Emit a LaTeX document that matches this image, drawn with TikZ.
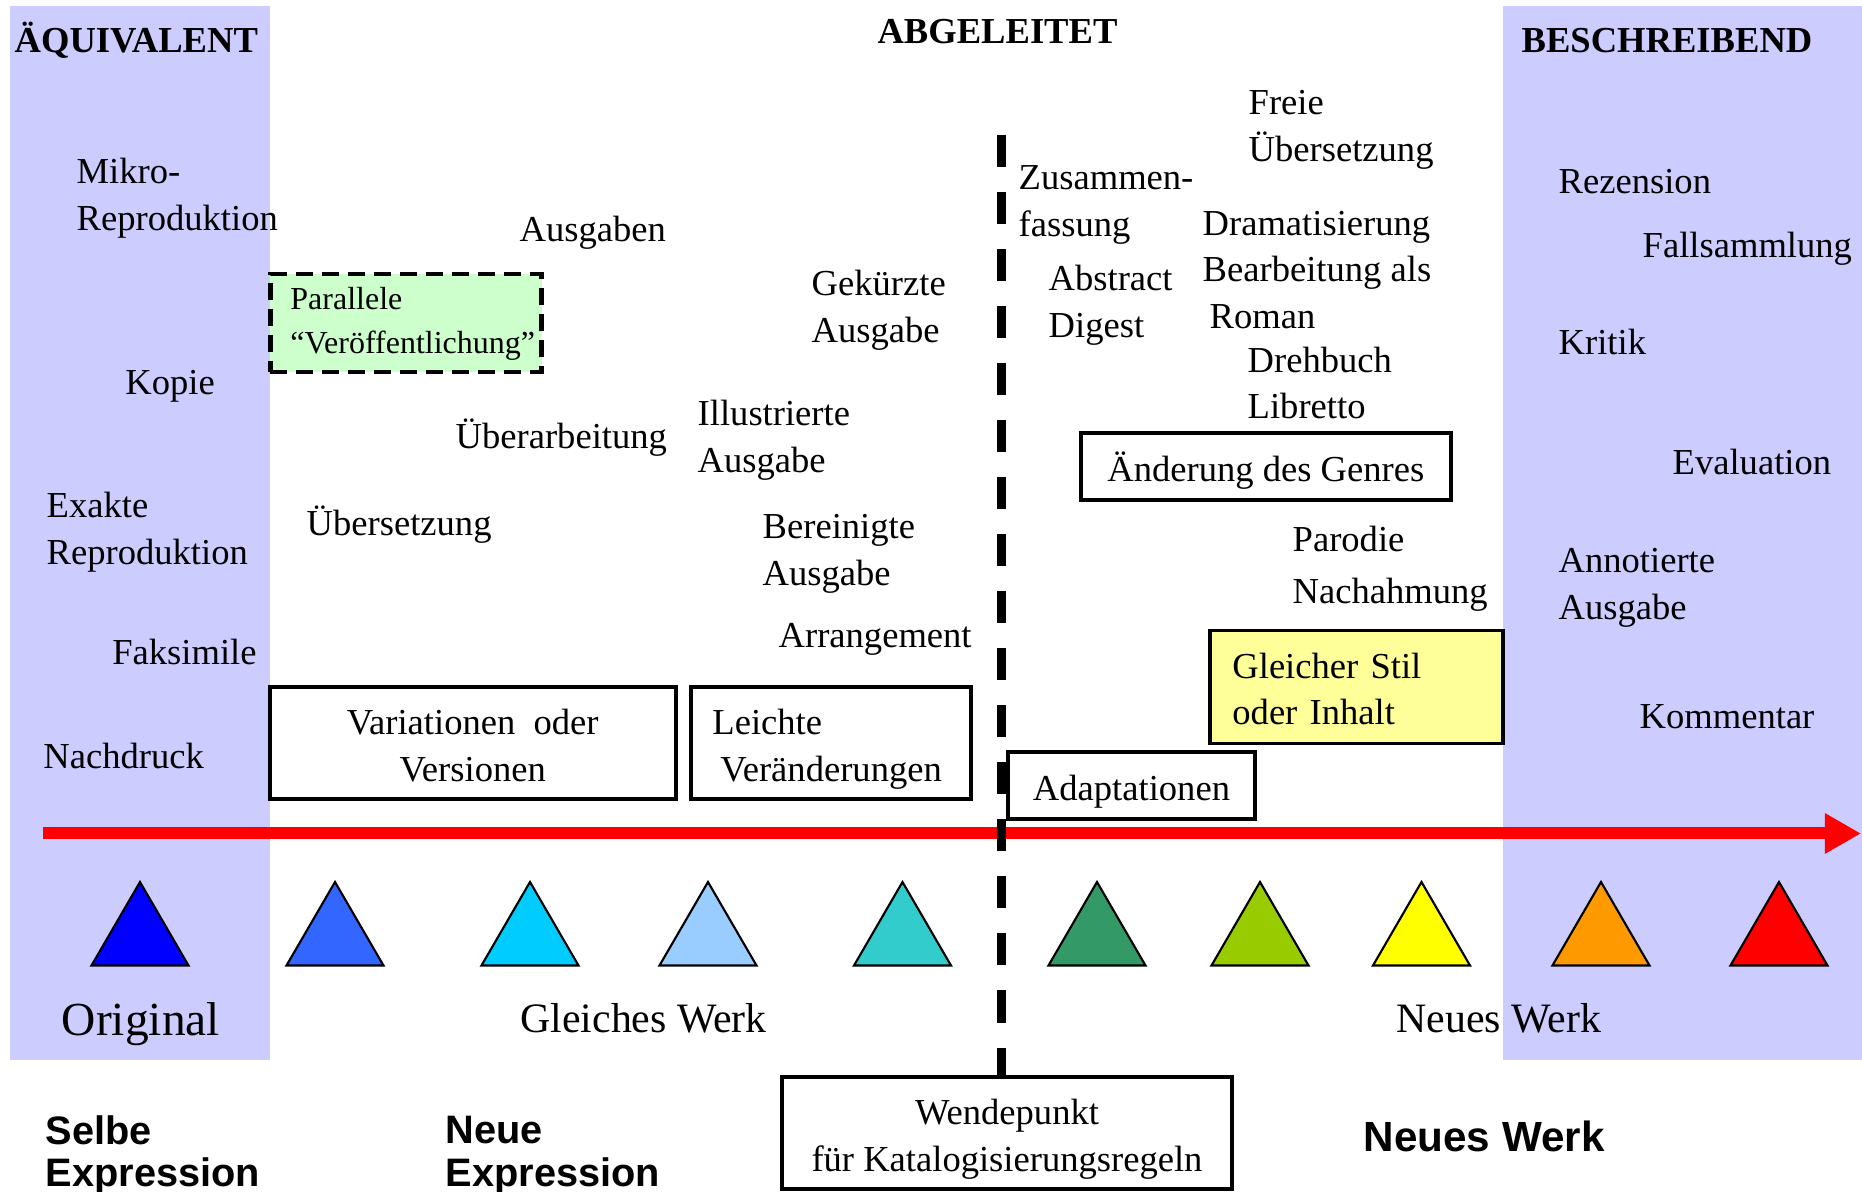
\documentclass[tikz,border=0pt]{standalone}
\usepackage{fontspec}
\setmainfont{Liberation Serif}
\newfontfamily\sansbold{Liberation Sans}
\usepackage{tikz}
\usetikzlibrary{arrows.meta, positioning}
\definecolor{bandblue}{HTML}{CCCCFF}
\definecolor{parallelgreen}{HTML}{CCFFCC}
\definecolor{stilyellow}{HTML}{FFFF99}
\definecolor{triA}{HTML}{0000FF}
\definecolor{triB}{HTML}{3366FF}
\definecolor{triC}{HTML}{00CCFF}
\definecolor{triD}{HTML}{99CCFF}
\definecolor{triE}{HTML}{33CCCC}
\definecolor{triF}{HTML}{339966}
\definecolor{triG}{HTML}{99CC00}
\definecolor{triH}{HTML}{FFFF00}
\definecolor{triI}{HTML}{FF9900}
\definecolor{triJ}{HTML}{FF0000}
\newcommand{\tstrut}{\rule{0pt}{12.3pt}}
\newcommand{\sstrut}{\rule{0pt}{12.5pt}}
\newcommand{\lowstrut}{\rule{0pt}{12.5pt}}

\begin{document}
\begin{tikzpicture}[x=0.01cm, y=-0.01cm,
  lbl/.style={inner sep=0pt, anchor=west, align=left, font=\fontsize{10.4}{13.3}\selectfont, execute at begin node=\tstrut, execute at end node=\strut},
  hdr/.style={lbl, font=\fontsize{10.4}{13.3}\selectfont\bfseries},
  big/.style={inner sep=0pt, anchor=center, font=\fontsize{13.5}{16}\selectfont},
  level/.style={inner sep=0pt, anchor=west, align=left, font=\sansbold\bfseries\fontsize{11.3}{12.2}\selectfont, execute at begin node=\sstrut, execute at end node=\strut},
  frame/.style={draw, line width=1.1pt, inner sep=0pt, align=center, font=\fontsize{10.4}{13.3}\selectfont},
  box/.style={frame, execute at begin node=\tstrut, execute at end node=\strut},
  dashbox/.style={frame, dash pattern=on 0.17cm off 0.09cm, line width=1.3pt, font=\fontsize{9.1}{12.4}\selectfont, execute at begin node=\strut, execute at end node=\strut},
  band/.style={fill=bandblue, draw=none},
  axis/.style={draw=red, line width=0.12cm, -{Triangle[length=0.36cm, width=0.38cm]}},
  cutline/.style={draw=black, line width=0.09cm, dash pattern=on 0.32cm off 0.25cm},
  tri/.style={draw=black, line width=0.6pt}
]
  \useasboundingbox (0,0) rectangle (1862,1192);

  \fill[band] (9.5,6) rectangle (269.6,1060);
  \fill[band] (1503,6) rectangle (1862,1060);

  \node[hdr] (aequiv) at (14,37.5) {ÄQUIVALENT};
  \node[hdr, anchor=center] (abgel) at (997.5,28.5) {ABGELEITET};
  \node[hdr] (beschr) at (1521,37.5) {BESCHREIBEND};

  \node[lbl] (mikro) at (76,201.5) {Mikro-\\Reproduktion};
  \node[lbl] (kopie) at (124.7,380) {Kopie};
  \node[lbl] (exakt) at (46,535.3) {Exakte\\Reproduktion};
  \node[lbl] (faksim) at (111.6,650) {Faksimile};
  \node[lbl] (nachdruck) at (42.75,754) {Nachdruck};

  \node[lbl] (ausgaben) at (519,227) {Ausgaben};
  \node[lbl] (ueberarb) at (455,434) {Überarbeitung};
  \node[lbl] (uebers) at (306,520.5) {Übersetzung};
  \node[lbl] (gekuerzt) at (811,313.3) {Gekürzte\\Ausgabe};
  \node[lbl] (illustr) at (697,443.3) {Illustrierte\\Ausgabe};
  \node[lbl] (bereinigt) at (762,556.8) {Bereinigte\\Ausgabe};
  \node[lbl] (arrang) at (778,633) {Arrangement};

  \node[lbl] (zusammen) at (1018,207.8) {Zusammen-\\fassung};
  \node[lbl] (abstract) at (1048,308) {Abstract\\Digest};
  \node[lbl] (freie) at (1248,132.8) {Freie\\Übersetzung};
  \node[lbl] (drama) at (1202,221) {Dramatisierung};
  \node[lbl] (bearb) at (1202,299.3) {Bearbeitung als\\\hspace*{0.07cm}Roman};
  \node[lbl] (drehbuch) at (1247,358) {Drehbuch};
  \node[lbl] (libretto) at (1247,404) {Libretto};
  \node[lbl] (parodie) at (1292,537) {Parodie};
  \node[lbl] (nachahm) at (1292,589) {Nachahmung};

  \node[lbl] (rezension) at (1558,178.5) {Rezension};
  \node[lbl] (fallsamm) at (1642,242.6) {Fallsammlung};
  \node[lbl] (kritik) at (1558,340) {Kritik};
  \node[lbl] (evaluation) at (1672,460) {Evaluation};
  \node[lbl] (annotiert) at (1558,590.8) {Annotierte\\Ausgabe};
  \node[lbl] (kommentar) at (1639,714) {Kommentar};

  \node[dashbox, fill=parallelgreen, align=left, text width=2.31cm, inner xsep=0.202cm, minimum height=0.98cm] (parall) at (406,323) {Parallele\\“Veröffentlichung”};
  \node[box, minimum width=4.06cm, minimum height=1.12cm] (variat) at (472.7,743.4) {\lowstrut Variationen\ \ oder\\Versionen};
  \node[box, align=left, text width=2.37cm, inner xsep=0.215cm, minimum height=1.12cm] (leicht) at (831,743.4) {Leichte\\\hspace*{0.08cm}Veränderungen};
  \node[box, minimum width=2.47cm, minimum height=0.67cm] (adapt) at (1131.5,785.5) {Adaptationen};
  \node[box, minimum width=3.70cm, minimum height=0.67cm] (genre) at (1265.8,466.5) {Änderung des Genres};
  \node[box, fill=stilyellow, align=left, text width=2.48cm, inner xsep=0.226cm, minimum height=1.13cm] (stil) at (1356.5,687) {Gleicher Stil\\oder Inhalt};
  \node[box, minimum width=4.49cm, minimum height=1.12cm] (wende) at (1007,1133) {\lowstrut Wendepunkt\\für Katalogisierungsregeln};

  \foreach \x/\c in {140/triA, 335/triB, 530/triC, 708/triD, 902.5/triE, 1097/triF, 1260/triG, 1421.5/triH, 1601/triI, 1779/triJ}
    \filldraw[tri, fill=\c] (\x-48.5,965.5) -- (\x,882) -- (\x+48.5,965.5) -- cycle;

  \node[big] (original) at (141,1024) {Original};
  \node[big, font=\fontsize{11.9}{16}\selectfont] (gleiches) at (643.6,1018) {Gleiches Werk};
  \node[big, font=\fontsize{11.9}{16}\selectfont] (neuesw) at (1498.6,1018) {Neues Werk};

  \node[level] (selbe) at (45,1157.5) {Selbe\\Expression};
  \node[level] (neue) at (445,1157.5) {Neue\\Expression};
  \node[level, font=\sansbold\bfseries\fontsize{12}{13}\selectfont] (neueswerk) at (1363,1136.5) {Neues Werk};

  \coordinate (axisL) at (43,833.5);
  \coordinate (axisR) at (1861,833.5);
  \draw[axis] (axisL) -- (axisR);

  \coordinate (cuttop) at (1001,135);
  \draw[cutline] (cuttop) -- (cuttop |- wende.north);
\end{tikzpicture}
\end{document}
